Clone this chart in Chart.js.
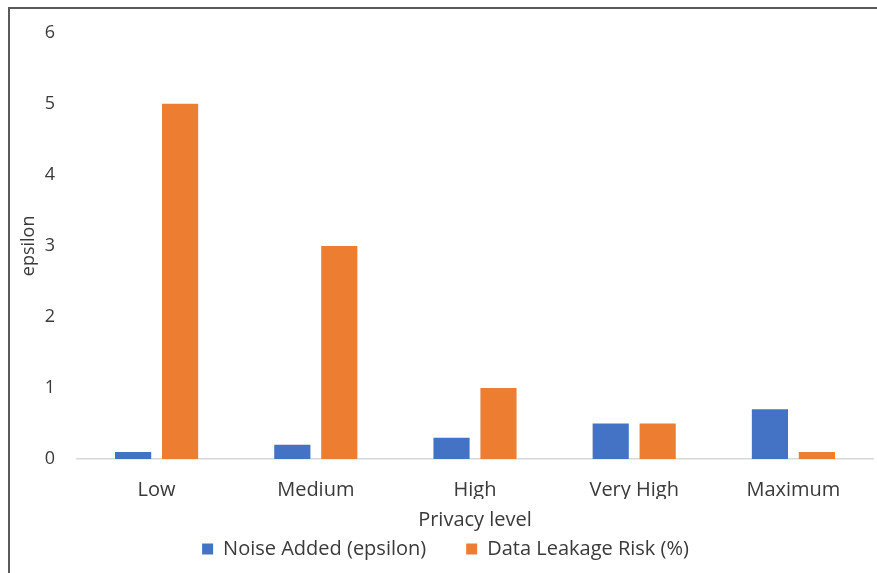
<!DOCTYPE html>
<html>
<head>
<meta charset="utf-8">
<script src="https://cdn.jsdelivr.net/npm/chart.js@4/dist/chart.umd.min.js"></script>
<style>
  html, body { margin: 0; padding: 0; background: #fff; }
  #wrap { position: absolute; left: 0; top: 0; width: 877px; height: 573px; }
  #frame { position: absolute; left: 8px; top: 7px; width: 877px; height: 573px;
           border-top: 2px solid #5a5a5a; border-left: 2px solid #5a5a5a; pointer-events: none; }
</style>
</head>
<body>
<div id="wrap"><canvas id="c" width="877" height="573"></canvas></div>
<div id="frame"></div>
<script>
// Privacy levels and the two measured series
const categories = ['Low', 'Medium', 'High', 'Very High', 'Maximum'];
const noiseAdded = [0.1, 0.2, 0.3, 0.5, 0.7];
const leakageRisk = [5, 3, 1, 0.5, 0.1];
const yTicks = [0, 1, 2, 3, 4, 5, 6];

const FONT = '"Open Sans", Lato, "Liberation Sans", sans-serif';
const TXT = '#3a3a3a';

new Chart(document.getElementById('c'), {
  type: 'bar',
  data: {
    labels: categories,
    datasets: [
      { label: 'Noise Added (epsilon)', data: noiseAdded, backgroundColor: '#4472C4',
        categoryPercentage: 0.59, barPercentage: 0.77 },
      { label: 'Data Leakage Risk (%)', data: leakageRisk, backgroundColor: '#ED7D31',
        categoryPercentage: 0.59, barPercentage: 0.77 }
    ]
  },
  options: {
    responsive: false,
    animation: false,
    layout: { padding: { left: 18, right: 4, top: 10, bottom: 4 } },
    plugins: {
      tooltip: { enabled: false },
      legend: {
        position: 'bottom',
        labels: { font: { family: FONT, size: 20 }, color: TXT, boxWidth: 11, boxHeight: 11, padding: 40 }
      }
    },
    scales: {
      x: {
        grid: { display: false, drawTicks: false },
        border: { color: '#d9d9d9', width: 1.5 },
        ticks: { font: { family: FONT, size: 20 }, color: TXT, padding: 19 },
        title: { display: true, text: 'Privacy level', font: { family: FONT, size: 20 }, color: TXT, padding: { top: -13, bottom: -33 } }
      },
      y: {
        min: 0, max: 6,
        afterBuildTicks: (axis) => { axis.ticks = yTicks.map(v => ({ value: v })); },
        afterFit: (axis) => { axis.width = 59; },
        grid: { display: false, drawTicks: false },
        border: { display: false },
        ticks: { font: { family: FONT, size: 18 }, color: TXT, padding: 22 },
        title: { display: true, text: 'epsilon', font: { family: FONT, size: 18 }, color: TXT, padding: 0 }
      }
    }
  }
});
</script>
</body>
</html>
